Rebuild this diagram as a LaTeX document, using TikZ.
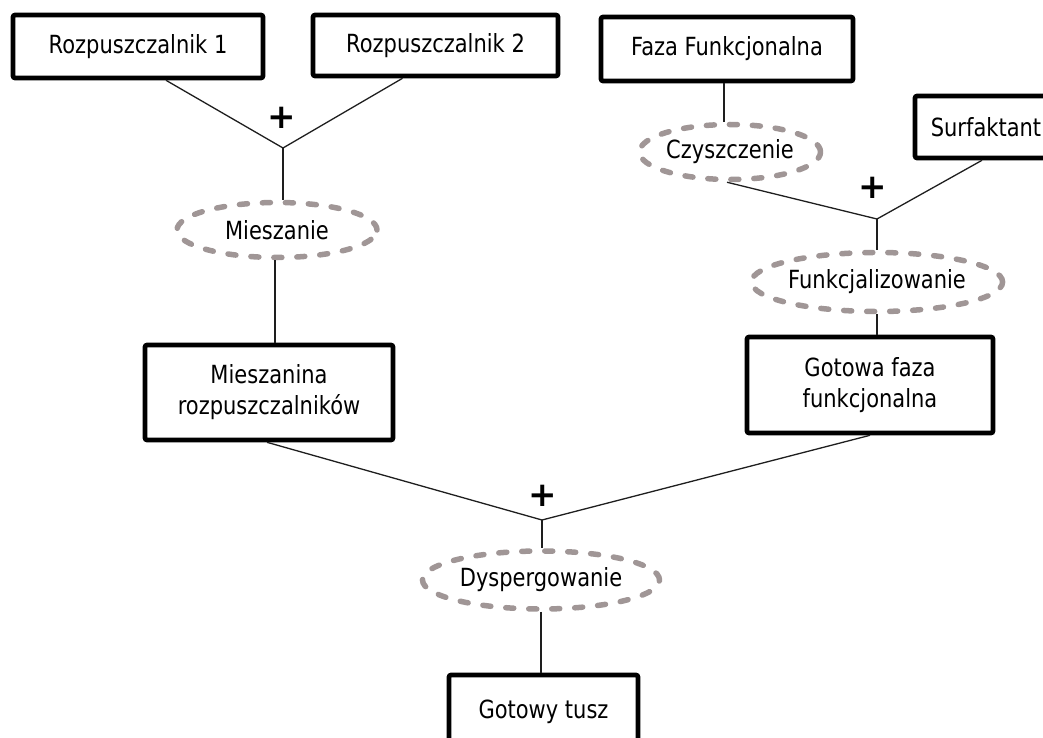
\documentclass[tikz,border=0pt]{standalone}
\usepackage{fontspec}
\setmainfont{DejaVu Sans}[FakeStretch=0.84]
\newfontfamily\plusfont{DejaVu Sans Bold}
\usetikzlibrary{shapes.geometric}

\definecolor{stepgray}{RGB}{160,150,150}
\definecolor{linkgray}{RGB}{30,30,30}

\tikzset{
  material/.style={draw=black, line width=4.6pt, rounded corners=2pt, fill=white,
    inner sep=0pt, align=center, font=\fontsize{25}{31}\selectfont},
  process/.style={ellipse, draw=stepgray, line width=5.5pt, line cap=round,
    dash pattern=on 8pt off 15pt, inner sep=0pt,
    font=\fontsize{25}{29}\selectfont},
  link/.style={draw=linkgray, line width=1.3pt},
  plussign/.style={inner sep=0pt, font=\plusfont\fontsize{34}{34}\selectfont}
}

\begin{document}
\begin{tikzpicture}[x=1pt, y=-1pt]
  \useasboundingbox (0,0) rectangle (1043,738);

  % starting materials
  \node[material, minimum width=250pt, minimum height=63pt] (r1) at (138,46.5) {Rozpuszczalnik 1};
  \node[material, minimum width=245pt, minimum height=61pt] (r2) at (435.5,45.5) {Rozpuszczalnik 2};
  \node[material, minimum width=252pt, minimum height=64pt] (faza) at (727,49) {Faza Funkcjonalna};
  \node[material, minimum width=142pt, minimum height=62pt] (surf) at (986,127) {Surfaktant};

  % process steps
  \node[process, minimum width=200pt, minimum height=55pt] (mieszE) at (277,230) {Mieszanie};
  \node[process, minimum width=181pt, minimum height=55pt] (czyszE) at (730,152) {Czyszczenie};
  \node[process, minimum width=249pt, minimum height=59pt] (funkE) at (877,282) {Funkcjalizowanie};
  \node[process, minimum width=237pt, minimum height=58pt] (dyspE) at (541,580) {Dyspergowanie};

  % intermediate and final products
  \node[material, minimum width=248pt, minimum height=95pt] (miesz) at (269,392.5) {Mieszanina\\rozpuszczalników};
  \node[material, minimum width=246pt, minimum height=96pt] (gotowa) at (870,385) {Gotowa faza\\funkcjonalna};
  \node[material, minimum width=189pt, minimum height=74pt] (tusz) at (543.5,712) {Gotowy tusz};

  % junction points where two streams are combined
  \coordinate (j1) at (283,148);
  \coordinate (j2) at (877,219);
  \coordinate (j3) at (542,520);

  % plus signs
  \node[plussign] (p1) at (282,118) {+};
  \node[plussign] (p2) at (873,188) {+};
  \node[plussign] (p3) at (543,496) {+};

  % solvent branch
  \draw[link] ([xshift=28pt]r1.south) -- (j1);
  \draw[link] ([xshift=-33pt]r2.south) -- (j1);
  \draw[link] (j1) -- (j1 |- mieszE.north);
  \draw[link] ([xshift=-2pt]mieszE.south) -- ([xshift=-2pt]mieszE.south |- miesz.north);

  % functional phase branch
  \draw[link] ([xshift=-3pt]faza.south) -- ([xshift=-3pt]faza.south |- czyszE.north);
  \draw[link] ([xshift=-3pt]czyszE.south) -- (j2);
  \draw[link] ([xshift=-4pt]surf.south) -- (j2);
  \draw[link] (j2) -- (j2 |- funkE.north);
  \draw[link] (funkE.south) -- (funkE.south |- gotowa.north);

  % final dispersion
  \draw[link] ([xshift=-2pt]miesz.south) -- (j3);
  \draw[link] (gotowa.south) -- (j3);
  \draw[link] (j3) -- (j3 |- dyspE.north);
  \draw[link] (dyspE.south) -- (dyspE.south |- tusz.north);
\end{tikzpicture}
\end{document}
